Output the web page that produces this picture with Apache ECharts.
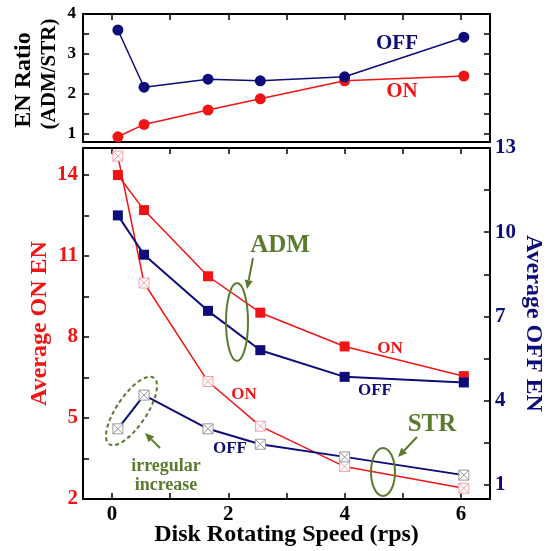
<!DOCTYPE html>
<html>
<head>
<meta charset="utf-8">
<script src="https://cdn.jsdelivr.net/npm/echarts@6/dist/echarts.min.js"></script>
<style>
html, body { margin: 0; padding: 0; background: #fff; }
#chart { width: 553px; height: 551px; }
</style>
</head>
<body>
<div id="chart"></div>
<script>
// disk speed (rps)
var speed = [0.1, 0.55, 1.65, 2.55, 4, 6.05];
// top panel: EN ratio ADM/STR
var ratioOn = [0.93, 1.24, 1.6, 1.88, 2.33, 2.45];
var ratioOff = [3.6, 2.17, 2.37, 2.33, 2.43, 3.42];
// bottom panel: average EN
var admOn = [14.0, 12.7, 10.25, 8.9, 7.65, 6.55];
var admOff = [10.6, 9.2, 7.2, 5.8, 4.85, 4.65];
var strOn = [14.7, 10.0, 6.35, 4.7, 3.2, 2.4];
var strOff = [3.0, 4.2, 3.0, 2.45, 2.0, 1.35];

// ticks / labels
var xTicks = [0, 1, 2, 3, 4, 5, 6];
var xLabels = [0, 2, 4, 6];
var ratioTicks = [1, 1.5, 2, 2.5, 3, 3.5, 4];
var ratioLabels = [1, 2, 3, 4];
var onTicks = [2, 3.5, 5, 6.5, 8, 9.5, 11, 12.5, 14];
var onLabels = [2, 5, 8, 11, 14];
var offTicks = [1, 2.5, 4, 5.5, 7, 8.5, 10, 11.5, 13];
var offLabels = [1, 4, 7, 10, 13];

var RED = '#f21414';
var NAVY = '#0c0c7a';
var GREEN = '#5b7a2e';
var PINK = '#f2a0a8';
var GREY = '#9a9a9a';
var FONT = 'Liberation Serif';
var boxX = 'path://M0,0L10,0L10,10L0,10ZM0,0L10,10M10,0L0,10';

function pairs(ys) {
  return speed.map(function (x, i) { return [x, ys[i]]; });
}

function xAx(grid, pos, labels, extra) {
  var a = {
    type: 'value', gridIndex: grid, position: pos, min: -0.5, max: 6.5,
    axisLine: { show: true, onZero: false, lineStyle: { color: '#000', width: 2 } },
    axisTick: { show: true, inside: true, length: 6, customValues: xTicks, lineStyle: { color: '#000', width: 1.5 } },
    axisLabel: labels ? { show: true, customValues: labels, margin: 5, color: '#000', fontFamily: FONT, fontWeight: 'bold', fontSize: 21 } : { show: false },
    splitLine: { show: false }
  };
  return Object.assign(a, extra || {});
}

function yAx(grid, pos, min, max, ticks, labels, color, size, extra) {
  var a = {
    type: 'value', gridIndex: grid, position: pos, min: min, max: max,
    axisLine: { show: true, onZero: false, lineStyle: { color: '#000', width: 2 } },
    axisTick: { show: true, inside: true, length: 6, customValues: ticks, lineStyle: { color: '#000', width: 1.5 } },
    axisLabel: labels ? { show: true, customValues: labels, margin: 5, color: color, fontFamily: FONT, fontWeight: 'bold', fontSize: size } : { show: false },
    splitLine: { show: false }
  };
  return Object.assign(a, extra || {});
}

function txt(x, y, s, color, size, rot) {
  return {
    type: 'text', x: x, y: y, rotation: rot || 0, z: 100,
    style: { text: s, fill: color, font: 'bold ' + size + 'px "' + FONT + '"', align: 'center', verticalAlign: 'middle' }
  };
}

function arrow(x1, y1, x2, y2) {
  var ang = Math.atan2(y2 - y1, x2 - x1);
  var L = 9, W = 4;
  var bx = x2 - L * Math.cos(ang), by = y2 - L * Math.sin(ang);
  var px = -Math.sin(ang) * W, py = Math.cos(ang) * W;
  return [
    { type: 'line', z: 100, shape: { x1: x1, y1: y1, x2: bx, y2: by }, style: { stroke: GREEN, lineWidth: 2 } },
    { type: 'polygon', z: 100, shape: { points: [[x2, y2], [bx + px, by + py], [bx - px, by - py]] }, style: { fill: GREEN } }
  ];
}

function ellipse(cx, cy, rx, ry, rot, dash) {
  return {
    type: 'ellipse', x: cx, y: cy, rotation: rot, z: 100,
    shape: { cx: 0, cy: 0, rx: rx, ry: ry },
    style: { fill: 'none', stroke: GREEN, lineWidth: 2, lineDash: dash ? [4, 3] : null }
  };
}

var chart = echarts.init(document.getElementById('chart'));

var option = {
  animation: false,
  backgroundColor: '#fff',
  grid: [
    { left: 83, right: 63, top: 14, height: 128, outerBoundsMode: 'none' },
    { left: 83, right: 63, top: 148, height: 351, outerBoundsMode: 'none' }
  ],
  xAxis: [
    xAx(0, 'bottom', null, { axisTick: { show: false } }),
    xAx(0, 'top', null),
    xAx(1, 'bottom', xLabels, {
      name: 'Disk Rotating Speed (rps)', nameLocation: 'middle', nameGap: 24, nameMoveOverlap: false,
      nameTextStyle: { color: '#000', fontFamily: FONT, fontWeight: 'bold', fontSize: 24 }
    }),
    xAx(1, 'top', null)
  ],
  yAxis: [
    yAx(0, 'left', 0.8, 4, ratioTicks, ratioLabels, '#000', 17, { axisLabel: { show: true, customValues: ratioLabels, margin: 7, color: '#000', fontFamily: FONT, fontWeight: 'bold', fontSize: 17 } }),
    yAx(0, 'right', 0.8, 4, ratioTicks, null),
    yAx(1, 'left', 2, 15, onTicks, onLabels, RED, 21, {
      name: 'Average ON EN', nameLocation: 'middle', nameGap: 31, nameRotate: 90, nameMoveOverlap: false,
      nameTextStyle: { color: RED, fontFamily: FONT, fontWeight: 'bold', fontSize: 24 }
    }),
    yAx(1, 'right', 0.5, 13, offTicks, offLabels, NAVY, 21, {
      name: 'Average OFF EN', nameLocation: 'middle', nameGap: 31, nameRotate: -90, nameMoveOverlap: false,
      nameTextStyle: { color: NAVY, fontFamily: FONT, fontWeight: 'bold', fontSize: 24 }
    })
  ],
  series: [
    {
      name: 'ratio ON', type: 'line', xAxisIndex: 0, yAxisIndex: 0, data: pairs(ratioOn),
      symbol: 'circle', symbolSize: 11, itemStyle: { color: RED }, lineStyle: { color: RED, width: 1.5 }
    },
    {
      name: 'ratio OFF', type: 'line', xAxisIndex: 0, yAxisIndex: 0, data: pairs(ratioOff),
      symbol: 'circle', symbolSize: 11, itemStyle: { color: NAVY }, lineStyle: { color: NAVY, width: 1.5 }
    },
    {
      name: 'ADM ON', type: 'line', xAxisIndex: 2, yAxisIndex: 2, data: pairs(admOn),
      symbol: 'rect', symbolSize: 10, itemStyle: { color: RED }, lineStyle: { color: RED, width: 1.5 }
    },
    {
      name: 'STR ON', type: 'line', xAxisIndex: 2, yAxisIndex: 2, data: pairs(strOn),
      symbol: boxX, symbolSize: 10, itemStyle: { color: '#fff', borderColor: PINK, borderWidth: 1 },
      lineStyle: { color: RED, width: 1.5 }
    },
    {
      name: 'STR OFF', type: 'line', xAxisIndex: 2, yAxisIndex: 3, data: pairs(strOff),
      symbol: boxX, symbolSize: 10, itemStyle: { color: '#fff', borderColor: GREY, borderWidth: 1 },
      lineStyle: { color: NAVY, width: 2 }
    },
    {
      name: 'ADM OFF', type: 'line', xAxisIndex: 2, yAxisIndex: 3, data: pairs(admOff),
      symbol: 'rect', symbolSize: 10, itemStyle: { color: NAVY }, lineStyle: { color: NAVY, width: 2 }
    }
  ],
  graphic: [
    txt(24, 80, 'EN Ratio', '#000', 24, Math.PI / 2),
    txt(50, 74, '(ADM/STR)', '#000', 21, Math.PI / 2),
    txt(397, 44, 'OFF', NAVY, 21),
    txt(402, 92, 'ON', RED, 21),
    txt(280, 246, 'ADM', GREEN, 25),
    txt(390, 349, 'ON', RED, 17),
    txt(375, 391, 'OFF', NAVY, 17),
    txt(244, 395, 'ON', RED, 17),
    txt(230, 449, 'OFF', NAVY, 17),
    txt(166, 466, 'irregular', GREEN, 18),
    txt(166, 485, 'increase', GREEN, 18),
    txt(432, 425, 'STR', GREEN, 25),
    ellipse(237, 322, 11, 39, 0, false),
    ellipse(131.5, 411, 15, 40, -0.59, true),
    ellipse(383, 472, 12, 24, 0, false)
  ].concat(arrow(253, 258, 247, 289), arrow(160, 448, 145, 433), arrow(417, 437, 398, 457))
};

chart.setOption(option);
</script>
</body>
</html>
